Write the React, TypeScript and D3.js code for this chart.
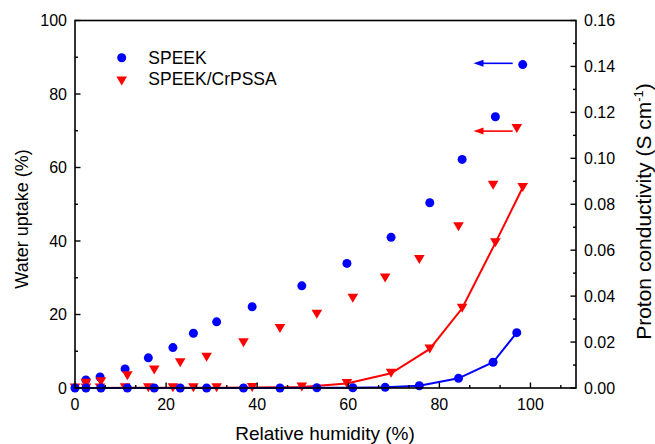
import React from "react";
import * as d3 from "d3";

// Relative humidity (%) at which each series was measured
const rhSpeekUptake = [2.4, 5.5, 11.0, 16.1, 21.5, 26.0, 31.1, 38.9, 49.8, 59.7, 69.4, 77.9, 85.0, 92.3, 98.3];
const rhBlendUptake = [2.4, 5.7, 11.5, 17.4, 23.1, 28.9, 37.0, 45.0, 53.1, 61.0, 68.1, 75.6, 84.2, 91.8, 97.0];
const rhSpeekCond = [0, 2.4, 5.7, 11.5, 17.4, 23.1, 28.9, 37.0, 45.0, 53.1, 61.0, 68.1, 75.6, 84.2, 91.8, 97.0];
const rhBlendCond = [0, 2.4, 5.5, 11.0, 16.1, 21.5, 26.0, 31.1, 38.9, 49.8, 59.7, 69.4, 77.9, 85.0, 92.3, 98.3];

// Water uptake (%) — left axis
const speekUptake = [2.2, 3.0, 5.2, 8.2, 11.0, 14.9, 18.0, 22.1, 27.8, 33.9, 41.0, 50.4, 62.2, 73.8, 88.0];
const blendUptake = [1.3, 1.7, 3.3, 4.9, 6.9, 8.4, 12.3, 16.2, 20.1, 24.4, 29.9, 35.0, 43.9, 55.2, 70.6];

// Proton conductivity (S cm^-1) — right axis
const speekCond = [0, 0, 0, 0, 0, 0, 0, 0, 0, 0.0001, 0.0001, 0.0003, 0.001, 0.0042, 0.0112, 0.0241];
const blendCond = [0, 0, 0, 0.0001, 0.0001, 0.0001, 0.0001, 0.0001, 0.0002, 0.0004, 0.002, 0.0064, 0.017, 0.0347, 0.0632, 0.0873];

// Axis ticks
const xMajorTicks = [0, 20, 40, 60, 80, 100];
const leftMajorTicks = [0, 20, 40, 60, 80, 100];
const rightMajorTicks = [0, 0.02, 0.04, 0.06, 0.08, 0.1, 0.12, 0.14, 0.16];

// Series names
const seriesNames = ["SPEEK", "SPEEK/CrPSSA"];

// Arrows pointing the upper points of each series to the left axis (RH from/to, uptake level)
const arrowFromRH = [96.1, 96.1];
const arrowToRH = [87.5, 87.5];
const arrowUptake = [88.35, 69.9];

const BLUE = "#0000ff";
const RED = "#ff0000";
const FONT = "'Liberation Sans', Arial, Helvetica, sans-serif";

const W = 655;
const H = 444;
const left = 75;
const right = 576;
const top = 20.5;
const bottom = 388;

export default function App() {
  const x = d3.scaleLinear().domain([0, 110]).range([left, right]);
  const yL = d3.scaleLinear().domain([0, 100]).range([bottom, top]);
  const yR = d3.scaleLinear().domain([0, 0.16]).range([bottom, top]);

  const xMinor = d3.range(0, 110.01, 20 / 3).filter((v) => !xMajorTicks.some((m) => Math.abs(m - v) < 1e-6));
  const leftMinor = d3.range(10, 100, 20);
  const rightMinor = d3.range(0.01, 0.16, 0.02);

  const lineGen = d3
    .line<[number, number]>()
    .x((d) => x(d[0]))
    .y((d) => yR(d[1]));

  const speekCondPts: [number, number][] = rhSpeekCond.map((r, i) => [r, speekCond[i]]);
  const blendCondPts: [number, number][] = rhBlendCond.map((r, i) => [r, blendCond[i]]);

  const R = 4.5;
  const tri = (cx: number, cy: number, color: string, key: string) => (
    <path
      key={key}
      d={`M${cx - 5.3},${cy - 4.5}L${cx + 5.3},${cy - 4.5}L${cx},${cy + 4.5}Z`}
      fill={color}
    />
  );
  const dot = (cx: number, cy: number, color: string, key: string) => (
    <circle key={key} cx={cx} cy={cy} r={R} fill={color} />
  );

  const arrowColors = [BLUE, RED];

  return (
    <svg
      width={W}
      height={H}
      style={{ position: "absolute", left: 0, top: 0, background: "#fff" }}
      fontFamily={FONT}
    >
      <rect x={0} y={0} width={W} height={H} fill="#fff" />

      {/* water uptake markers */}
      <g>
        {rhSpeekUptake.map((r, i) => dot(x(r), yL(speekUptake[i]), BLUE, `su${i}`))}
        {rhBlendUptake.map((r, i) => tri(x(r), yL(blendUptake[i]), RED, `bu${i}`))}
      </g>

      {/* conductivity lines + markers */}
      <path d={lineGen(blendCondPts) || ""} fill="none" stroke={RED} strokeWidth={2} />
      {blendCondPts.map((p, i) => tri(x(p[0]), yR(p[1]), RED, `bc${i}`))}
      <path d={lineGen(speekCondPts) || ""} fill="none" stroke={BLUE} strokeWidth={2} />
      {speekCondPts.map((p, i) => dot(x(p[0]), yR(p[1]), BLUE, `sc${i}`))}

      {/* arrows */}
      {arrowUptake.map((u, i) => {
        const x1 = x(arrowFromRH[i]);
        const x2 = x(arrowToRH[i]);
        const yy = yL(u);
        return (
          <g key={`ar${i}`}>
            <line x1={x1} x2={x2 + 8} y1={yy} y2={yy} stroke={arrowColors[i]} strokeWidth={1.6} />
            <path d={`M${x2},${yy}L${x2 + 10},${yy - 3.5}L${x2 + 10},${yy + 3.5}Z`} fill={arrowColors[i]} />
          </g>
        );
      })}

      {/* frame */}
      <rect x={left} y={top} width={right - left} height={bottom - top} fill="none" stroke="#000" strokeWidth={1.6} />

      {/* bottom ticks */}
      {xMajorTicks.map((t) => (
        <g key={`xt${t}`}>
          <line x1={x(t)} x2={x(t)} y1={bottom} y2={bottom - 5.5} stroke="#000" strokeWidth={1.4} />
          <text x={x(t)} y={410} fontSize={16} textAnchor="middle" fill="#000">
            {t}
          </text>
        </g>
      ))}
      {xMinor.map((t, i) => (
        <line key={`xm${i}`} x1={x(t)} x2={x(t)} y1={bottom} y2={bottom - 3} stroke="#000" strokeWidth={1.4} />
      ))}

      {/* left ticks */}
      {leftMajorTicks.map((t) => (
        <g key={`lt${t}`}>
          <line x1={left} x2={left + 5.5} y1={yL(t)} y2={yL(t)} stroke="#000" strokeWidth={1.4} />
          <text x={67} y={yL(t)} dy="0.36em" fontSize={16} textAnchor="end" fill="#000">
            {t}
          </text>
        </g>
      ))}
      {leftMinor.map((t) => (
        <line key={`lm${t}`} x1={left} x2={left + 3} y1={yL(t)} y2={yL(t)} stroke="#000" strokeWidth={1.4} />
      ))}

      {/* right ticks */}
      {rightMajorTicks.map((t) => (
        <g key={`rt${t}`}>
          <line x1={right} x2={right - 5.5} y1={yR(t)} y2={yR(t)} stroke="#000" strokeWidth={1.4} />
          <text x={584} y={yR(t)} dy="0.36em" fontSize={16} textAnchor="start" fill="#000">
            {t.toFixed(2)}
          </text>
        </g>
      ))}
      {rightMinor.map((t, i) => (
        <line key={`rm${i}`} x1={right} x2={right - 3} y1={yR(t)} y2={yR(t)} stroke="#000" strokeWidth={1.4} />
      ))}

      {/* axis titles */}
      <text x={325} y={440} fontSize={19} textAnchor="middle" fill="#000">
        Relative humidity (%)
      </text>
      <text transform="translate(28,219) rotate(-90)" fontSize={18} textAnchor="middle" fill="#000">
        Water uptake (%)
      </text>
      <text transform="translate(651,211.5) rotate(-90)" fontSize={21} textAnchor="middle" fill="#000">
        Proton conductivity (S cm
        <tspan fontSize={13} dy={-8}>
          -1
        </tspan>
        <tspan dy={8}>)</tspan>
      </text>

      {/* legend */}
      <g>
        {dot(121.7, 57.7, BLUE, "lg0")}
        <text x={148.3} y={63.6} fontSize={17.5} fill="#000">
          {seriesNames[0]}
        </text>
        {tri(121.7, 81, RED, "lg1")}
        <text x={148.3} y={85.3} fontSize={17.5} fill="#000">
          {seriesNames[1]}
        </text>
      </g>
    </svg>
  );
}
